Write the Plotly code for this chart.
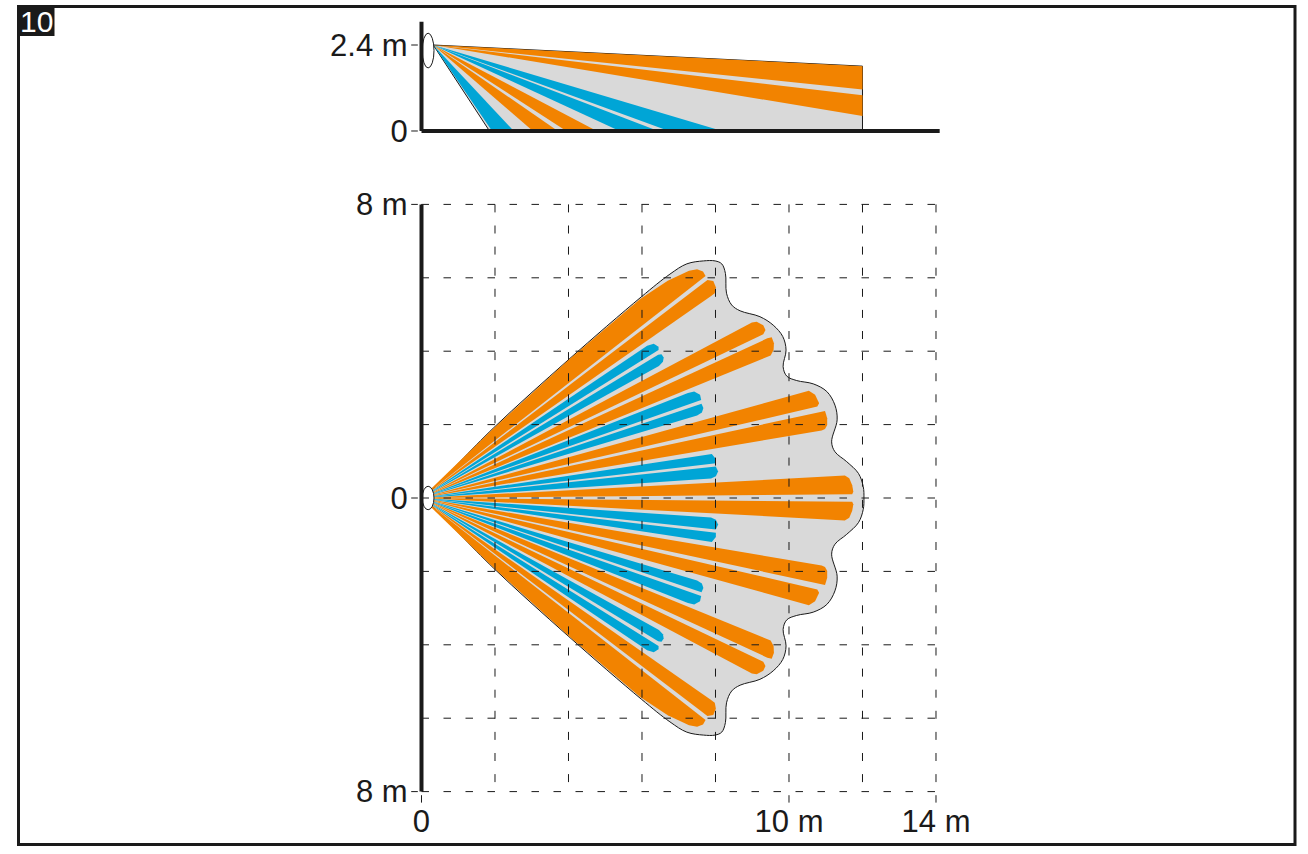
import plotly.graph_objects as go

# plan view, metres. upper half only, the lower half is the mirror image
grid_x = [0, 2, 4, 6, 8, 10, 12, 14]
grid_y = [-8, -6, -4, -2, 0, 2, 4, 6, 8]
x_tick_vals = [0, 10, 14]
x_tick_text = ["0", "10 m", "14 m"]
y_tick_vals = [-8, 0, 8]
y_tick_text = ["8 m", "0", "8 m"]

outline_x = [0, 0.32, 1.95, 3.99, 5.98, 6.76, 7.22, 7.67, 7.99, 8.17, 8.27, 8.30, 8.44, 8.67, 9.21, 9.57,
             9.83, 9.92, 9.84, 9.94, 10.21, 10.66, 11.03, 11.25, 11.31, 11.16, 11.25, 11.57, 11.89, 12.02, 12.04]
outline_y = [0, 0.26, 1.90, 3.76, 5.48, 6.10, 6.38, 6.46, 6.46, 6.38, 6.12, 5.58, 5.26, 5.10, 4.94, 4.71,
             4.40, 4.03, 3.58, 3.32, 3.20, 3.11, 2.90, 2.53, 2.13, 1.53, 1.26, 0.99, 0.67, 0.31, 0]

# each beam runs from the sensor to its rounded end
orange_beams = [
    [(1.95, 1.89), (3.99, 3.75), (5.00, 4.62), (5.95, 5.42), (6.70, 5.92), (7.28, 6.19), (7.50, 6.23), (7.66, 6.17), (7.73, 6.05)],
    [(7.78, 5.94), (7.94, 5.91), (8.01, 5.74), (7.98, 5.58), (7.89, 5.51)],
    [(8.99, 4.78), (9.12, 4.80), (9.30, 4.71), (9.36, 4.58), (9.30, 4.46)],
    [(9.41, 4.35), (9.53, 4.38), (9.59, 4.22), (9.58, 4.03), (9.50, 3.88)],
    [(10.41, 2.87), (10.54, 2.92), (10.71, 2.81), (10.82, 2.58), (10.77, 2.49)],
    [(10.89, 2.34), (10.98, 2.37), (11.04, 2.17), (11.04, 1.99), (10.98, 1.88), (10.89, 1.84)],
    [(11.52, 0.61), (11.64, 0.54), (11.72, 0.35), (11.75, 0.17), (11.72, 0.10)],
]
blue_beams = [
    [(6.14, 4.15), (6.32, 4.20), (6.45, 4.12), (6.45, 4.03)],
    [(6.44, 3.90), (6.53, 3.92), (6.59, 3.83), (6.57, 3.71), (6.46, 3.60)],
    [(7.25, 2.86), (7.42, 2.90), (7.58, 2.81), (7.61, 2.67)],
    [(7.62, 2.57), (7.67, 2.45), (7.63, 2.33), (7.50, 2.25)],
    [(7.77, 1.20), (7.90, 1.20), (8.01, 1.06), (8.01, 0.95)],
    [(8.01, 0.86), (8.07, 0.72), (8.01, 0.59), (7.88, 0.53)],
]

# side view, metres
sensor_x = 0.32
sensor_height = 2.4
side_tick_vals = [0, 2.4]
side_tick_text = ["0", "2.4 m"]
side_area_x = [12, 12, 1.85]
side_area_y = [1.81, 0, 0]
side_orange = [
    [(12, 1.81), (12, 1.16)],
    [(12, 1.00), (12, 0.42)],
    [(4.77, 0), (3.94, 0)],
    [(3.71, 0), (3.03, 0)],
]
side_blue = [
    [(8.18, 0), (6.73, 0)],
    [(6.44, 0), (5.39, 0)],
    [(2.51, 0), (1.92, 0)],
]

W, H = 1308, 854
ORANGE = "#f28300"
BLUE = "#00a5d6"
GRAY = "#d9d9d9"
BLACK = "#1a1a1a"
FONT = dict(family="Liberation Sans", size=31, color=BLACK)

x_range = [-0.35, 14.2]
y_range = [-8.35, 8.1]
side_range = [-0.11, 3.15]


def px_x(m):
    return (421.5 + m * 36.75) / W


def px_y(m):
    return 1 - (498 + -m * 36.7) / H


def px_side(m):
    return 1 - (131 - m * 35.83) / H


def wedge(fig, x0, y0, points, color, yaxis):
    fig.add_trace(go.Scatter(
        x=[x0] + [p[0] for p in points] + [x0],
        y=[y0] + [p[1] for p in points] + [y0],
        mode="lines", fill="toself", fillcolor=color,
        line=dict(width=0), hoverinfo="skip", showlegend=False, yaxis=yaxis,
    ))


def hline(fig, x0, x1, y, yref, **line):
    fig.add_shape(type="line", x0=x0, x1=x1, y0=y, y1=y, xref="x", yref=yref, line=line)


def vline(fig, x, y0, y1, yref, **line):
    fig.add_shape(type="line", x0=x, x1=x, y0=y0, y1=y1, xref="x", yref=yref, line=line)


fig = go.Figure()

# plan view
fig.add_trace(go.Scatter(
    x=outline_x + outline_x[-2::-1],
    y=outline_y + [-v for v in outline_y[-2::-1]],
    mode="lines", line=dict(color=BLACK, width=1, shape="spline"),
    fill="toself", fillcolor=GRAY, hoverinfo="skip", showlegend=False,
))
for beam in orange_beams:
    wedge(fig, 0, 0, beam, ORANGE, "y")
    wedge(fig, 0, 0, [(x, -y) for x, y in beam], ORANGE, "y")
for beam in blue_beams:
    wedge(fig, 0, 0, beam, BLUE, "y")
    wedge(fig, 0, 0, [(x, -y) for x, y in beam], BLUE, "y")

# side view
fig.add_trace(go.Scatter(
    x=[sensor_x] + side_area_x + [sensor_x],
    y=[sensor_height] + side_area_y + [sensor_height],
    mode="lines", line=dict(color=BLACK, width=1),
    fill="toself", fillcolor=GRAY, hoverinfo="skip", showlegend=False, yaxis="y2",
))
for beam in side_orange:
    wedge(fig, sensor_x, sensor_height, beam, ORANGE, "y2")
for beam in side_blue:
    wedge(fig, sensor_x, sensor_height, beam, BLUE, "y2")

# sensor lens
fig.add_shape(type="circle", x0=0.02, x1=0.34, y0=-0.32, y1=0.32, xref="x", yref="y",
              fillcolor="white", line=dict(color=BLACK, width=1))
fig.add_shape(type="circle", x0=0.02, x1=0.34, y0=1.76, y1=2.73, xref="x", yref="y2",
              fillcolor="white", line=dict(color=BLACK, width=1))

# dashed grid sits on top of the beams
for gx in grid_x:
    vline(fig, gx, grid_y[-1], -8.3 if gx in x_tick_vals else grid_y[0], "y",
          color=BLACK, width=1, dash="8px,13.1px")
for gy in grid_y:
    hline(fig, grid_x[0], grid_x[-1], gy, "y", color=BLACK, width=1, dash="7.5px,14.5px")

# heavy axes and the small ticks beside them
vline(fig, 0, grid_y[0], grid_y[-1], "y", color=BLACK, width=4)
vline(fig, 0, 0, 3.05, "y2", color=BLACK, width=4)
hline(fig, 0, 14.1, 0, "y2", color=BLACK, width=4)
for gy in y_tick_vals:
    hline(fig, -0.28, -0.1, gy, "y", color=BLACK, width=1)
for gy in side_tick_vals:
    hline(fig, -0.28, -0.1, gy, "y2", color=BLACK, width=1)

# frame and figure number
fig.add_shape(type="rect", x0=18.5 / W, x1=1295 / W, y0=1 - 844.5 / H, y1=1 - 6.5 / H,
              xref="paper", yref="paper", line=dict(color=BLACK, width=3))
fig.add_shape(type="rect", x0=18 / W, x1=54.5 / W, y0=1 - 36 / H, y1=1 - 6 / H,
              xref="paper", yref="paper", fillcolor=BLACK, line=dict(width=0))
fig.add_annotation(x=36.5 / W, y=1 - 21.5 / H, xref="paper", yref="paper", text="10",
                   xanchor="center", yanchor="middle", showarrow=False,
                   font=dict(family="Liberation Sans", size=30, color="white"))

fig.update_layout(
    width=W, height=H,
    margin=dict(l=0, r=0, t=0, b=0, pad=0, autoexpand=False),
    paper_bgcolor="white", plot_bgcolor="rgba(0,0,0,0)",
    showlegend=False,
    xaxis=dict(domain=[px_x(x_range[0]), px_x(x_range[1])], range=x_range, anchor="y",
               tickmode="array", tickvals=x_tick_vals, ticktext=x_tick_text, ticklabelstandoff=-4,
               showgrid=False, zeroline=False, showline=False, ticks="", tickfont=FONT),
    yaxis=dict(domain=[px_y(y_range[0]), px_y(y_range[1])], range=y_range, anchor="x",
               tickmode="array", tickvals=y_tick_vals, ticktext=y_tick_text,
               showgrid=False, zeroline=False, showline=False, ticks="", tickfont=FONT),
    yaxis2=dict(domain=[px_side(side_range[0]), px_side(side_range[1])], range=side_range, anchor="x",
                tickmode="array", tickvals=side_tick_vals, ticktext=side_tick_text,
                showgrid=False, zeroline=False, showline=False, ticks="", tickfont=FONT),
)

fig.write_html("out.html", post_script="document.body.style.margin='0'",
               config=dict(displayModeBar=False))
